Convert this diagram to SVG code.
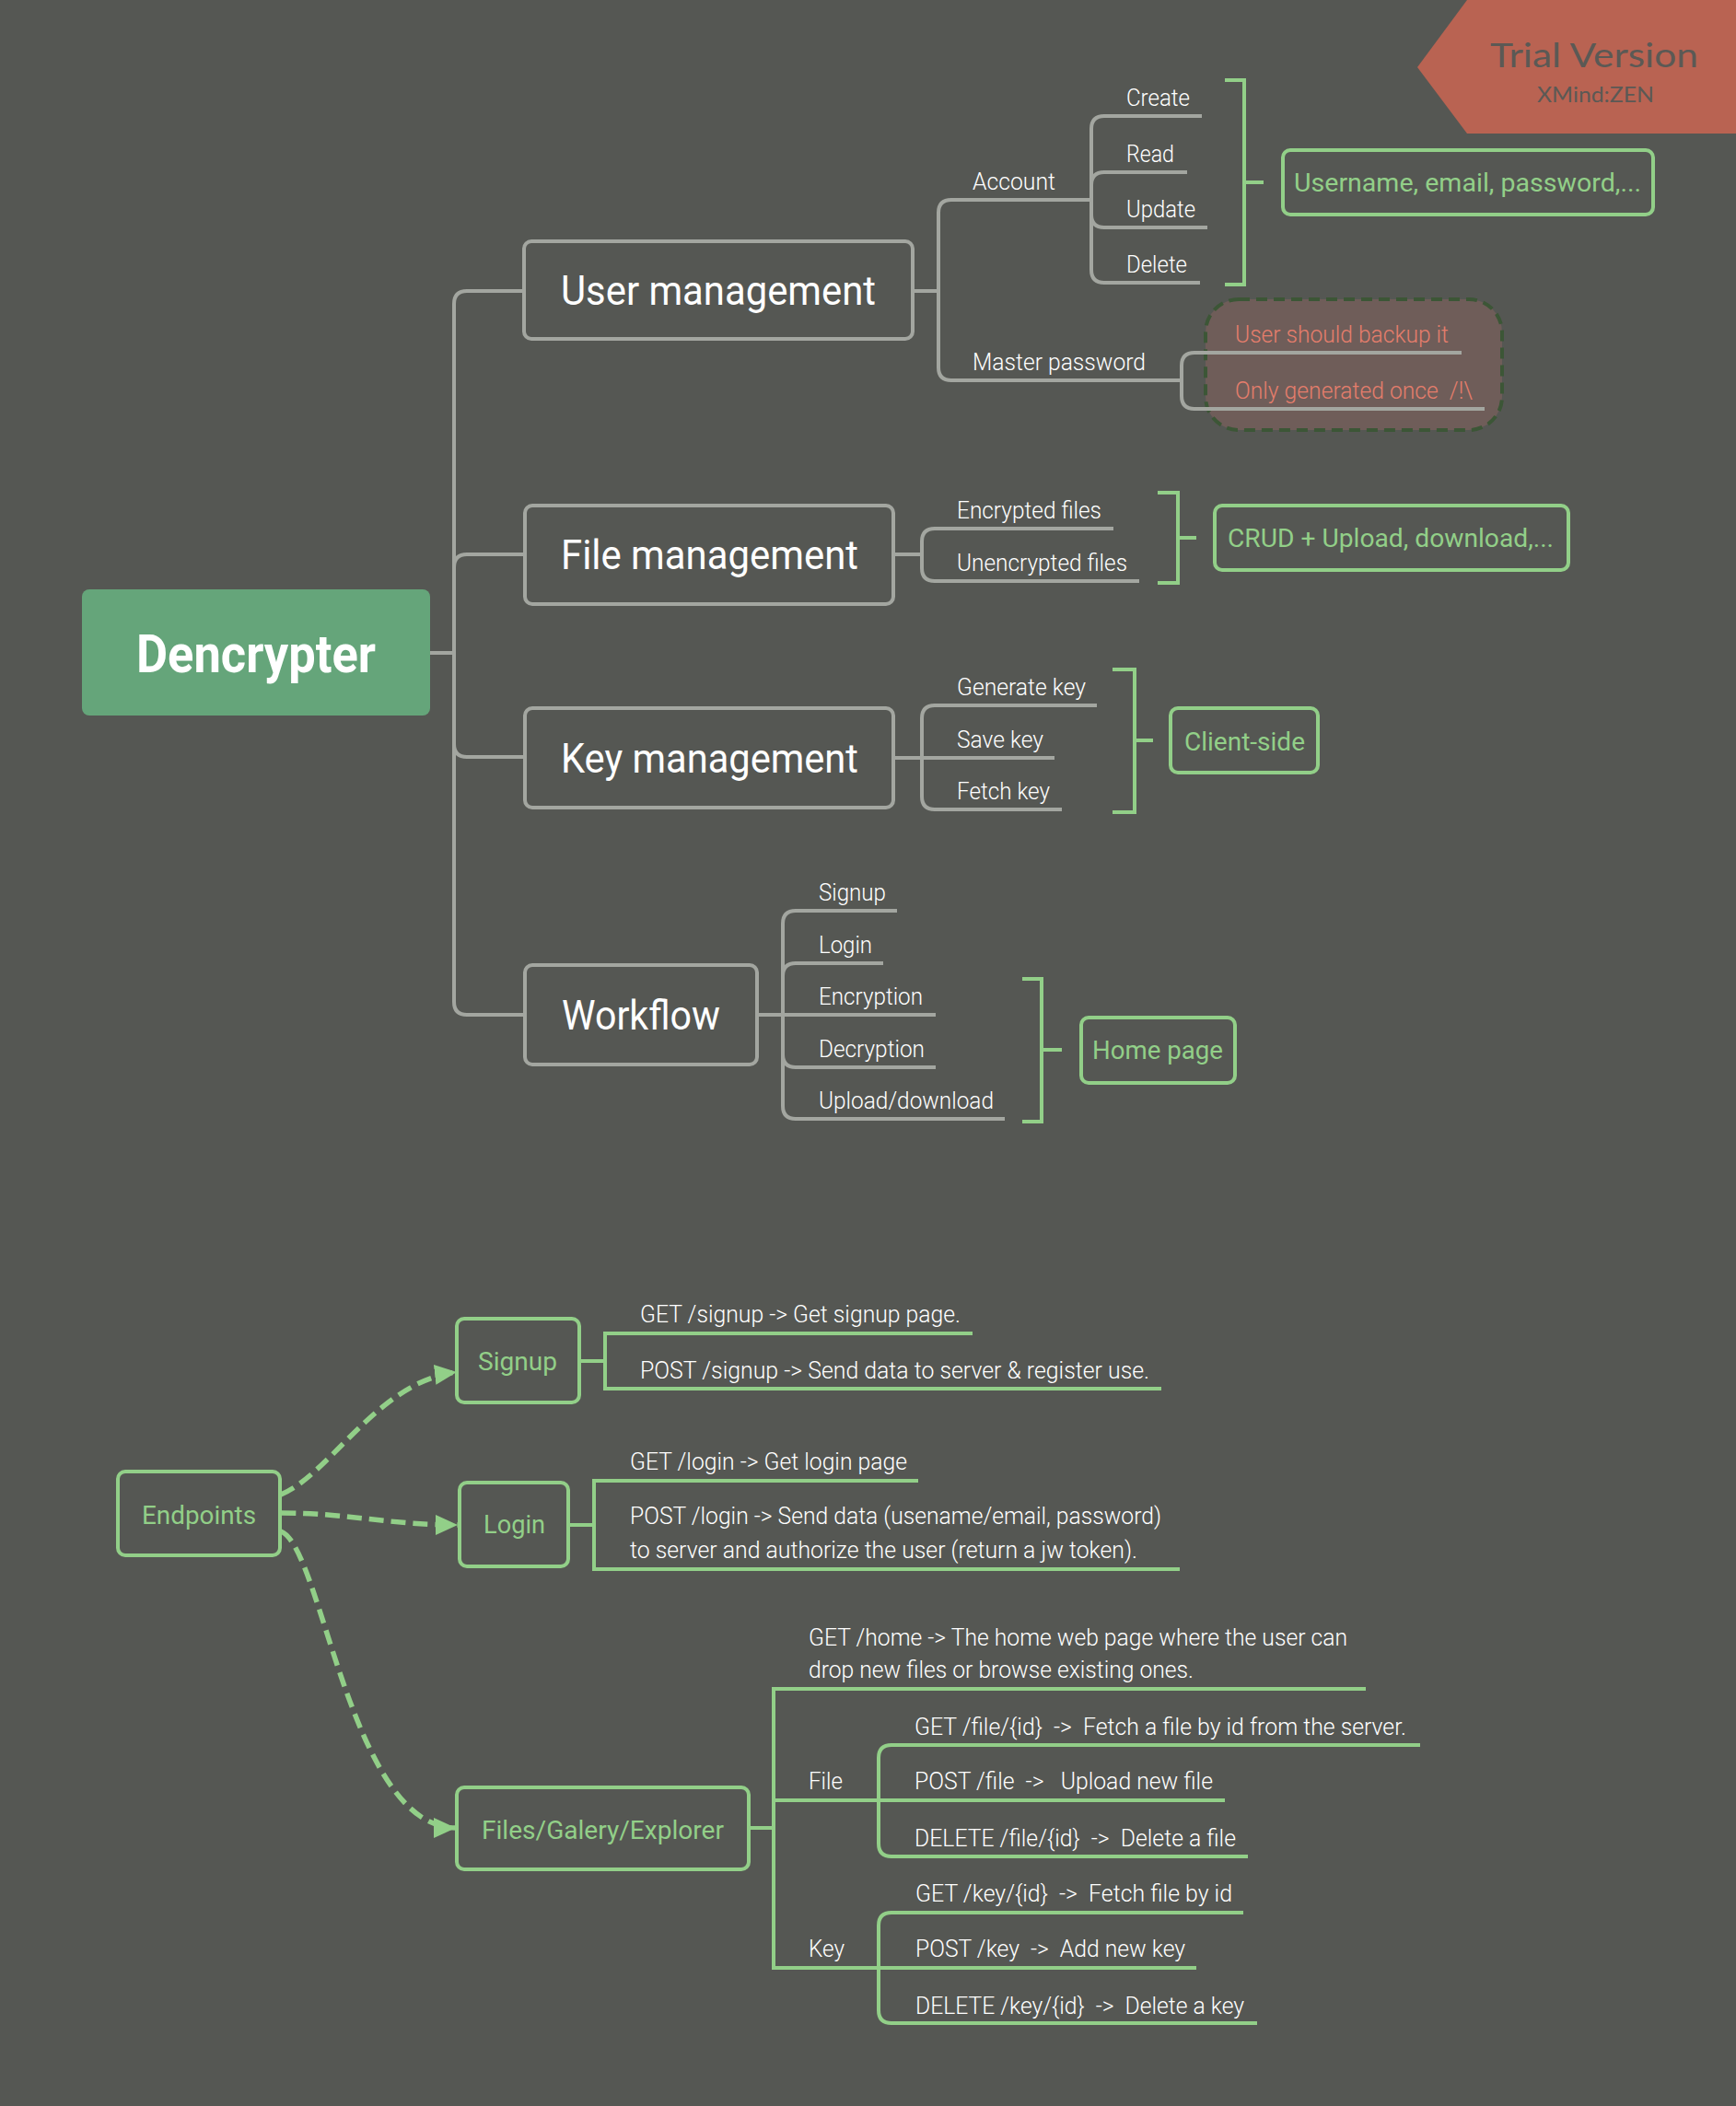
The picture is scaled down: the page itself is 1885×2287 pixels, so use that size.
<svg xmlns="http://www.w3.org/2000/svg" width="1885" height="2287" viewBox="0 0 1885 2287" xml:space="preserve">
<style>
.bg{fill:#555753}
.gl{fill:none;stroke:#a3a6a0;stroke-width:4}
.gn{fill:none;stroke:#92cf88;stroke-width:4}
.gbox{fill:#555753;stroke:#a3a6a0;stroke-width:4}
.nbox{fill:#555753;stroke:#92cf88;stroke-width:4}
text{white-space:pre}
.t{font-family:Roboto,"Liberation Sans",sans-serif;font-weight:300;font-size:25px;fill:#ffffff}
.big{font-family:Roboto,"Liberation Sans",sans-serif;font-weight:400;font-size:45px;fill:#ffffff}
.gt{font-family:Roboto,"Liberation Sans",sans-serif;font-weight:400;font-size:28px;fill:#92cf88}
.rt{font-family:Roboto,"Liberation Sans",sans-serif;font-weight:300;font-size:25px;fill:#e57d6c}
.arr{fill:none;stroke:#92cf88;stroke-width:5.5;stroke-dasharray:16 8}
</style>
<defs>
<marker id="ah" markerUnits="userSpaceOnUse" markerWidth="26" markerHeight="24" refX="24" refY="11" orient="auto">
<path d="M0,0 L24,11 L0,22 Z" fill="#92cf88"/>
</marker>
</defs>
<rect class="bg" x="0" y="0" width="1885" height="2287"/>

<g id="banner">
<polygon points="1593,0 1885,0 1885,145 1593,145 1539,73" fill="#b96352"/>
<text x="1618" y="73" textLength="226" lengthAdjust="spacingAndGlyphs" font-family="Lato,'Noto Sans',sans-serif" font-size="36" fill="#5b5955">Trial Version</text>
<text x="1669" y="111" textLength="127" lengthAdjust="spacingAndGlyphs" font-family="Lato,'Noto Sans',sans-serif" font-size="23" fill="#5b5955">XMind:ZEN</text>
</g>

<g id="note-box">
<rect x="1309" y="325" width="322" height="142" rx="36" fill="#6f5d59" stroke="#3c5636" stroke-width="4" stroke-dasharray="12 7"/>
</g>

<g id="connectors">
<path class="gl" d="M467,709 H493"/>
<path class="gl" d="M493,709 V330 Q493,316 507,316 H569"/>
<path class="gl" d="M493,709 V616 Q493,602 507,602 H570"/>
<path class="gl" d="M493,709 V808 Q493,822 507,822 H570"/>
<path class="gl" d="M493,709 V1088 Q493,1102 507,1102 H570"/>

<path class="gl" d="M991,316 H1019"/>
<path class="gl" d="M1019,316 V231 Q1019,217 1033,217 H1185"/>
<path class="gl" d="M1019,316 V399 Q1019,413 1033,413 H1282"/>

<path class="gl" d="M1185,217 V140 Q1185,126 1199,126 H1305"/>
<path class="gl" d="M1185,217 V201 Q1185,187 1199,187 H1289"/>
<path class="gl" d="M1185,217 V233 Q1185,247 1199,247 H1311"/>
<path class="gl" d="M1185,217 V293 Q1185,307 1199,307 H1303"/>

<path class="gl" d="M1283,413 V397 Q1283,383 1297,383 H1587"/>
<path class="gl" d="M1283,413 V430 Q1283,444 1297,444 H1612"/>

<path class="gl" d="M970,602 H1001"/>
<path class="gl" d="M1001,602 V588 Q1001,574 1015,574 H1209"/>
<path class="gl" d="M1001,602 V617 Q1001,631 1015,631 H1237"/>

<path class="gl" d="M970,823 H1145"/>
<path class="gl" d="M1001,823 V780 Q1001,766 1015,766 H1191"/>
<path class="gl" d="M1001,823 V865 Q1001,879 1015,879 H1153"/>

<path class="gl" d="M822,1102 H1016"/>
<path class="gl" d="M850,1102 V1003 Q850,989 864,989 H974"/>
<path class="gl" d="M850,1102 V1060 Q850,1046 864,1046 H959"/>
<path class="gl" d="M850,1102 V1145 Q850,1159 864,1159 H1016"/>
<path class="gl" d="M850,1102 V1201 Q850,1215 864,1215 H1091"/>

<path class="gn" d="M1330,87 H1351 V309 H1330 M1351,198 H1372"/>
<path class="gn" d="M1257,535 H1279 V633 H1257 M1279,584 H1299"/>
<path class="gn" d="M1208,727 H1232 V882 H1208 M1232,804 H1252"/>
<path class="gn" d="M1110,1063 H1131 V1218 H1110 M1131,1140 H1153"/>

<path class="gn" d="M629,1478 H657 M1056,1448 H657 V1508 H1261"/>
<path class="gn" d="M617,1656 H645 M997,1608 H645 V1704 H1281"/>
<path class="gn" d="M813,1985 H840 M1483,1834 H840 V2137 H954 M840,1955 H954"/>
<path class="gn" d="M954,1955 V1909 Q954,1895 968,1895 H1542"/>
<path class="gn" d="M954,1955 H1330"/>
<path class="gn" d="M954,1955 V2002 Q954,2016 968,2016 H1355"/>
<path class="gn" d="M954,2137 V2091 Q954,2077 968,2077 H1350"/>
<path class="gn" d="M954,2137 H1299"/>
<path class="gn" d="M954,2137 V2183 Q954,2197 968,2197 H1365"/>

<path class="arr" d="M305,1623 C360,1600 410,1500 496,1490" marker-end="url(#ah)"/>
<path class="arr" d="M305,1643 C380,1643 420,1656 497,1656" marker-end="url(#ah)"/>
<path class="arr" d="M305,1663 C350,1680 380,1985 495,1985" marker-end="url(#ah)"/>
</g>

<g id="dencrypter">
<rect x="89" y="640" width="378" height="137" rx="8" fill="#65a57a"/>
<text x="148" y="730" textLength="260" lengthAdjust="spacingAndGlyphs" font-family="Roboto,'Liberation Sans',sans-serif" font-weight="700" font-size="58" fill="#ffffff">Dencrypter</text>
</g>

<g id="user-management">
<rect class="gbox" x="569" y="262" width="422" height="106" rx="8"/>
<text class="big" x="609" y="331" textLength="342" lengthAdjust="spacingAndGlyphs">User management</text>
</g>
<g id="account"><text class="t" x="1056" y="206" textLength="90" lengthAdjust="spacingAndGlyphs">Account</text></g>
<g id="create"><text class="t" x="1223" y="115" textLength="69" lengthAdjust="spacingAndGlyphs">Create</text></g>
<g id="read"><text class="t" x="1223" y="176" textLength="52" lengthAdjust="spacingAndGlyphs">Read</text></g>
<g id="update"><text class="t" x="1223" y="236" textLength="75" lengthAdjust="spacingAndGlyphs">Update</text></g>
<g id="delete"><text class="t" x="1223" y="296" textLength="66" lengthAdjust="spacingAndGlyphs">Delete</text></g>
<g id="account-summary">
<rect class="nbox" x="1393" y="163" width="402" height="70" rx="8"/>
<text class="gt" x="1405" y="208" textLength="377" lengthAdjust="spacingAndGlyphs">Username, email, password,...</text>
</g>
<g id="master-password"><text class="t" x="1056" y="402" textLength="188" lengthAdjust="spacingAndGlyphs">Master password</text></g>
<g id="backup"><text class="rt" x="1341" y="372" textLength="232" lengthAdjust="spacingAndGlyphs">User should backup it</text></g>
<g id="once"><text class="rt" x="1341" y="433" textLength="258" lengthAdjust="spacingAndGlyphs">Only generated once  /!\</text></g>

<g id="file-management">
<rect class="gbox" x="570" y="549" width="400" height="107" rx="8"/>
<text class="big" x="609" y="618" textLength="323" lengthAdjust="spacingAndGlyphs">File management</text>
</g>
<g id="encrypted-files"><text class="t" x="1039" y="563" textLength="157" lengthAdjust="spacingAndGlyphs">Encrypted files</text></g>
<g id="unencrypted-files"><text class="t" x="1039" y="620" textLength="185" lengthAdjust="spacingAndGlyphs">Unencrypted files</text></g>
<g id="file-summary">
<rect class="nbox" x="1319" y="549" width="384" height="70" rx="8"/>
<text class="gt" x="1333" y="594" textLength="354" lengthAdjust="spacingAndGlyphs">CRUD + Upload, download,...</text>
</g>

<g id="key-management">
<rect class="gbox" x="570" y="769" width="400" height="108" rx="8"/>
<text class="big" x="609" y="839" textLength="323" lengthAdjust="spacingAndGlyphs">Key management</text>
</g>
<g id="generate-key"><text class="t" x="1039" y="755" textLength="140" lengthAdjust="spacingAndGlyphs">Generate key</text></g>
<g id="save-key"><text class="t" x="1039" y="812" textLength="94" lengthAdjust="spacingAndGlyphs">Save key</text></g>
<g id="fetch-key"><text class="t" x="1039" y="868" textLength="101" lengthAdjust="spacingAndGlyphs">Fetch key</text></g>
<g id="key-summary">
<rect class="nbox" x="1271" y="769" width="160" height="70" rx="8"/>
<text class="gt" x="1286" y="815" textLength="131" lengthAdjust="spacingAndGlyphs">Client-side</text>
</g>

<g id="workflow">
<rect class="gbox" x="570" y="1048" width="252" height="108" rx="8"/>
<text class="big" x="610" y="1118" textLength="172" lengthAdjust="spacingAndGlyphs">Workflow</text>
</g>
<g id="wf-signup"><text class="t" x="889" y="978" textLength="73" lengthAdjust="spacingAndGlyphs">Signup</text></g>
<g id="wf-login"><text class="t" x="889" y="1035" textLength="58" lengthAdjust="spacingAndGlyphs">Login</text></g>
<g id="wf-encryption"><text class="t" x="889" y="1091" textLength="113" lengthAdjust="spacingAndGlyphs">Encryption</text></g>
<g id="wf-decryption"><text class="t" x="889" y="1148" textLength="115" lengthAdjust="spacingAndGlyphs">Decryption</text></g>
<g id="wf-upload"><text class="t" x="889" y="1204" textLength="190" lengthAdjust="spacingAndGlyphs">Upload/download</text></g>
<g id="workflow-summary">
<rect class="nbox" x="1174" y="1105" width="167" height="71" rx="8"/>
<text class="gt" x="1186" y="1150" textLength="142" lengthAdjust="spacingAndGlyphs">Home page</text>
</g>

<g id="endpoints">
<rect class="nbox" x="128" y="1598" width="176" height="91" rx="8"/>
<text class="gt" x="154" y="1655" textLength="124" lengthAdjust="spacingAndGlyphs">Endpoints</text>
</g>
<g id="ep-signup">
<rect class="nbox" x="496" y="1432" width="133" height="91" rx="8"/>
<text class="gt" x="519" y="1488" textLength="86" lengthAdjust="spacingAndGlyphs">Signup</text>
</g>
<g id="get-signup"><text class="t" x="695" y="1436" textLength="348" lengthAdjust="spacingAndGlyphs">GET /signup -&gt; Get signup page.</text></g>
<g id="post-signup"><text class="t" x="695" y="1497" textLength="553" lengthAdjust="spacingAndGlyphs">POST /signup -&gt; Send data to server &amp; register use.</text></g>

<g id="ep-login">
<rect class="nbox" x="499" y="1610" width="118" height="91" rx="8"/>
<text class="gt" x="525" y="1665" textLength="67" lengthAdjust="spacingAndGlyphs">Login</text>
</g>
<g id="get-login"><text class="t" x="684" y="1596" textLength="301" lengthAdjust="spacingAndGlyphs">GET /login -&gt; Get login page</text></g>
<g id="post-login">
<text class="t" x="684" y="1655" textLength="577" lengthAdjust="spacingAndGlyphs">POST /login -&gt; Send data (usename/email, password)</text>
<text class="t" x="684" y="1692" textLength="551" lengthAdjust="spacingAndGlyphs">to server and authorize the user (return a jw token).</text>
</g>

<g id="ep-files">
<rect class="nbox" x="496" y="1941" width="317" height="89" rx="8"/>
<text class="gt" x="523" y="1997" textLength="263" lengthAdjust="spacingAndGlyphs">Files/Galery/Explorer</text>
</g>
<g id="get-home">
<text class="t" x="878" y="1787" textLength="585" lengthAdjust="spacingAndGlyphs">GET /home -&gt; The home web page where the user can</text>
<text class="t" x="878" y="1822" textLength="418" lengthAdjust="spacingAndGlyphs">drop new files or browse existing ones.</text>
</g>
<g id="file"><text class="t" x="878" y="1943" textLength="37" lengthAdjust="spacingAndGlyphs">File</text></g>
<g id="get-file"><text class="t" x="993" y="1884" textLength="534" lengthAdjust="spacingAndGlyphs">GET /file/{id}  -&gt;  Fetch a file by id from the server.</text></g>
<g id="post-file"><text class="t" x="993" y="1943" textLength="324" lengthAdjust="spacingAndGlyphs">POST /file  -&gt;   Upload new file</text></g>
<g id="delete-file"><text class="t" x="993" y="2005" textLength="349" lengthAdjust="spacingAndGlyphs">DELETE /file/{id}  -&gt;  Delete a file</text></g>
<g id="key"><text class="t" x="878" y="2125" textLength="39" lengthAdjust="spacingAndGlyphs">Key</text></g>
<g id="get-key"><text class="t" x="994" y="2065" textLength="344" lengthAdjust="spacingAndGlyphs">GET /key/{id}  -&gt;  Fetch file by id</text></g>
<g id="post-key"><text class="t" x="994" y="2125" textLength="293" lengthAdjust="spacingAndGlyphs">POST /key  -&gt;  Add new key</text></g>
<g id="delete-key"><text class="t" x="994" y="2187" textLength="357" lengthAdjust="spacingAndGlyphs">DELETE /key/{id}  -&gt;  Delete a key</text></g>
</svg>
